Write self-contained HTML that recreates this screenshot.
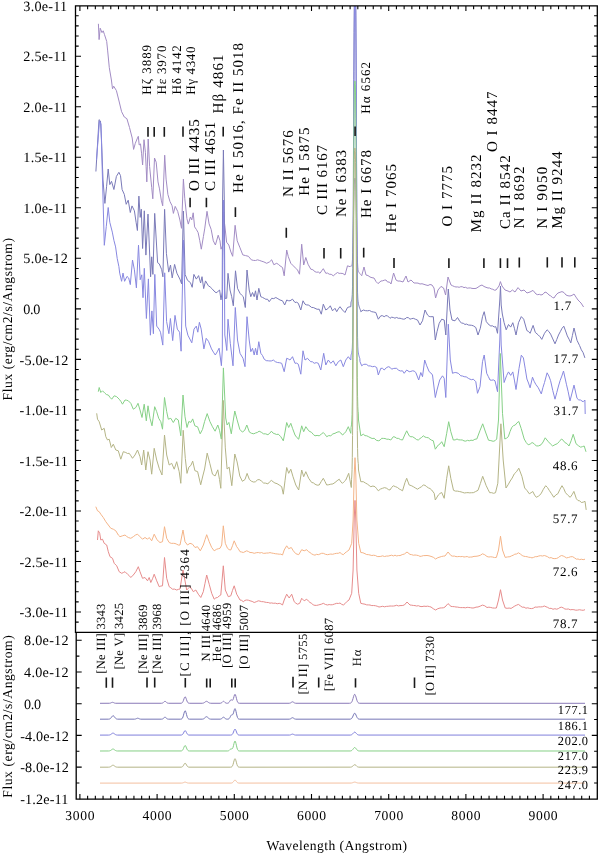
<!DOCTYPE html>
<html><head><meta charset="utf-8"><style>html,body{margin:0;padding:0;background:#fff;}svg{display:block;text-rendering:geometricPrecision;}</style></head>
<body><svg width="600" height="853" viewBox="0 0 600 853">
<rect width="600" height="853" fill="#fff"/>
<defs><clipPath id="cu"><rect x="75.5" y="5.9" width="521.8" height="626.5"/></clipPath></defs>
<g clip-path="url(#cu)" fill="none" stroke-width="1" stroke-linejoin="round">
<polyline points="98.40,23.80 99.10,39.60 100.20,28.20 102.00,32.60 103.20,30.80 104.40,34.30 106.70,41.40 107.60,50.10 109.30,67.70 111.40,80.00 112.50,88.80 113.70,86.20 116.40,90.60 119.00,101.00 121.60,111.70 124.30,117.00 126.90,118.70 129.50,127.50 132.20,138.00 133.60,149.40 135.30,143.30 137.10,138.90 138.30,136.30 139.20,145.00 140.50,143.90 141.60,153.80 142.60,165.00 144.00,139.70 145.40,152.30 146.10,166.40 146.80,181.90 148.20,139.00 149.60,166.40 151.70,187.50 152.80,198.80 154.50,158.00 156.20,162.20 158.00,181.90 159.50,188.90 161.30,200.20 162.70,205.80 164.70,155.20 166.10,179.10 167.90,194.50 170.00,201.60 172.10,205.80 173.40,213.40 175.20,206.40 177.70,211.40 179.90,220.00 181.50,228.30 183.40,179.10 184.80,198.80 186.90,218.50 188.30,224.10 190.40,217.00 191.80,219.90 193.20,212.80 194.60,226.90 196.35,229.42 198.10,232.50 199.70,240.29 201.30,249.20 203.40,236.60 204.80,228.10 207.00,211.30 209.10,223.90 211.20,229.50 213.30,240.80 215.40,245.00 218.20,235.20 220.00,240.80 221.00,249.20 222.90,245.00 223.60,212.00 224.30,222.00 224.80,225.30 226.60,242.20 228.80,245.00 230.90,252.00 232.70,256.30 235.10,225.30 237.20,240.80 240.00,247.80 242.80,254.90 245.60,255.60 248.40,256.30 251.30,259.80 253.40,260.39 255.50,260.50 257.60,259.82 259.70,260.50 261.80,261.26 263.90,261.90 266.70,263.30 269.50,261.90 271.70,259.80 273.80,264.70 276.70,263.30 278.35,264.34 280.00,265.80 282.50,267.50 284.20,275.80 286.70,250.00 288.30,256.70 290.80,263.30 293.30,265.80 295.80,268.30 297.50,270.00 299.50,274.20 301.70,244.20 303.70,265.00 305.80,257.50 308.00,264.20 310.80,269.20 312.90,269.74 315.00,271.70 316.67,272.25 318.33,272.03 320.00,273.30 321.65,270.89 323.30,268.70 325.80,273.30 327.50,273.06 329.20,274.20 331.25,274.35 333.30,275.80 335.40,274.03 337.50,272.50 339.15,273.42 340.80,273.30 342.90,273.55 345.00,275.00 347.50,265.80 350.00,266.70 350.25,266.16 350.50,266.21 350.75,266.23 351.00,266.23 351.25,266.20 351.50,266.10 351.75,265.82 352.00,265.04 352.25,263.14 352.50,259.26 352.75,252.48 353.00,242.44 353.25,229.67 353.50,215.67 353.75,202.39 354.00,191.55 354.25,184.05 354.50,179.87 354.75,178.25 355.00,178.00 355.25,178.25 355.50,179.88 355.75,184.12 356.00,191.78 356.25,202.91 356.50,216.63 356.75,231.22 357.00,244.64 357.25,255.35 357.50,262.74 357.75,267.17 358.00,269.54 358.25,270.75 358.50,271.44 358.75,271.94 359.00,272.37 359.25,272.76 359.50,273.14 359.75,273.49 360.00,273.82 360.25,274.14 360.50,274.44 360.75,274.72 361.00,274.98 361.25,275.24 361.50,275.48 361.70,275.80 364.00,267.00 366.00,275.00 368.00,275.56 370.00,277.00 372.00,277.70 374.00,278.00 376.00,281.52 378.00,283.60 381.00,281.00 382.67,280.79 384.33,280.17 386.00,280.00 387.67,282.10 389.33,281.94 391.00,284.00 393.60,273.00 396.00,280.00 398.00,281.07 400.00,281.00 403.00,282.00 406.00,276.00 408.00,282.00 411.00,280.00 414.00,283.00 416.00,283.00 418.00,283.10 420.00,284.00 422.00,283.72 424.00,284.36 426.00,285.00 428.00,285.51 430.00,284.49 432.00,285.00 434.00,288.00 435.60,298.00 438.00,290.00 441.00,286.40 443.60,288.00 445.60,295.00 448.00,277.00 451.00,285.00 452.67,285.80 454.33,286.56 456.00,287.00 457.60,286.92 459.20,287.32 460.80,286.66 462.40,286.78 464.00,287.60 465.60,287.29 467.20,288.21 468.80,287.96 470.40,287.94 472.00,288.40 474.00,288.54 476.00,288.40 478.00,287.19 480.00,285.81 482.00,285.00 484.00,286.47 486.00,287.32 488.00,288.00 489.60,287.99 491.20,288.92 492.80,289.24 494.40,290.20 496.00,290.00 499.00,286.00 500.40,281.60 502.00,286.00 505.00,290.00 508.00,291.00 510.00,292.00 512.40,290.00 515.00,292.00 518.00,287.60 521.00,291.00 524.00,290.00 527.00,293.00 530.00,292.00 533.00,290.40 536.00,294.00 537.67,294.70 539.33,294.33 541.00,295.00 543.00,294.27 545.00,292.00 547.00,292.89 549.00,295.00 550.67,295.87 552.33,297.41 554.00,298.00 556.00,294.94 558.00,293.00 560.00,292.28 562.00,291.60 564.00,292.56 566.00,295.00 568.00,295.77 570.00,296.00 572.00,295.42 574.00,294.00 576.00,297.12 578.00,300.00 581.00,303.00 583.60,307.00" stroke="#a28cc4"/>
<polyline points="95.90,171.50 99.00,119.70 100.50,121.00 101.50,140.00 103.00,180.00 104.90,203.40 106.55,186.80 108.20,169.00 109.80,184.60 111.50,181.30 113.90,189.50 116.40,176.40 118.90,172.30 120.50,175.60 122.10,189.50 124.30,194.40 126.20,204.30 128.20,200.20 130.30,212.50 132.00,205.90 134.40,210.80 136.10,222.30 137.40,230.50 138.90,196.10 140.20,217.40 141.30,209.20 142.60,248.50 144.30,210.80 145.90,255.10 148.00,214.10 150.60,276.80 151.70,256.80 152.90,274.40 154.70,213.40 157.60,262.70 159.30,263.90 161.70,269.70 162.90,276.80 164.60,209.30 166.40,253.30 168.70,272.10 170.50,265.00 172.20,277.90 174.60,264.40 176.90,273.20 179.90,279.10 181.60,283.80 183.40,211.00 185.10,274.40 187.50,280.30 190.40,282.60 192.20,287.30 193.90,274.40 196.30,279.10 198.60,275.60 200.60,283.00 202.00,276.70 203.70,288.60 205.50,280.90 208.40,285.80 210.15,286.90 211.90,288.60 214.00,291.01 216.10,292.80 217.85,291.55 219.60,290.00 221.00,299.90 222.20,292.00 222.60,200.00 223.40,150.00 224.30,200.00 224.80,290.00 225.20,298.50 226.70,298.30 228.00,273.30 230.00,290.00 231.70,296.70 233.30,305.80 235.50,270.80 237.50,288.30 240.00,293.30 241.65,295.13 243.30,296.70 245.30,307.50 247.00,270.00 249.20,290.00 250.80,296.70 252.50,292.50 254.20,296.70 255.50,290.80 257.00,300.00 258.80,288.30 260.80,296.70 262.50,297.43 264.20,298.30 265.85,299.29 267.50,299.20 269.20,301.70 271.70,298.30 273.75,298.61 275.80,297.50 277.90,298.71 280.00,300.00 282.50,300.80 284.70,305.00 286.70,300.00 288.35,300.66 290.00,300.80 292.50,299.20 295.00,302.50 296.65,302.20 298.30,303.30 300.80,310.00 303.00,300.80 305.00,304.20 306.65,304.92 308.30,305.00 309.97,306.07 311.63,307.46 313.30,307.50 315.00,308.30 317.10,309.27 319.20,309.20 321.30,314.20 323.30,304.20 325.80,310.00 328.30,308.30 330.30,305.80 332.50,310.80 335.00,308.30 336.70,311.70 338.35,308.86 340.00,306.70 342.50,310.00 345.00,312.50 347.50,307.50 349.15,306.92 350.80,306.70 351.05,302.06 351.30,301.40 351.55,300.64 351.80,299.70 352.05,298.13 352.30,294.59 352.55,286.17 352.80,268.39 353.05,237.06 353.30,191.34 353.55,135.89 353.80,79.74 354.05,32.29 354.30,-0.57 354.55,-18.23 354.80,-24.37 355.05,-24.99 355.30,-22.94 355.55,-12.81 355.80,10.75 356.05,49.97 356.30,102.13 356.55,159.58 356.80,212.46 357.05,253.09 357.30,279.02 357.55,292.81 357.80,299.09 358.05,301.86 358.30,303.34 358.55,304.44 358.80,305.41 359.05,306.30 359.30,307.12 359.55,307.87 359.80,308.54 360.05,309.14 360.30,309.67 360.55,310.14 360.80,311.70 363.30,310.00 365.40,310.67 367.50,310.80 369.60,310.49 371.70,311.70 373.75,312.04 375.80,312.50 378.30,319.20 380.80,315.80 382.50,315.72 384.20,316.70 385.85,315.64 387.50,315.80 390.00,318.30 391.65,317.19 393.30,317.50 394.97,318.20 396.63,317.44 398.30,318.30 399.97,318.20 401.63,318.73 403.30,319.20 405.00,318.94 406.70,317.50 408.35,317.68 410.00,319.20 411.65,318.67 413.30,318.30 415.40,319.23 417.50,320.00 420.00,325.00 422.50,320.80 425.00,310.00 427.50,315.00 429.15,316.46 430.80,316.70 433.30,316.70 435.30,340.00 437.00,331.70 439.20,323.30 441.70,319.20 444.20,320.00 445.80,335.00 447.60,300.00 448.30,289.00 449.20,300.00 450.00,310.00 452.00,320.00 455.00,320.80 457.50,317.50 460.00,321.70 461.65,323.01 463.30,323.30 464.97,324.45 466.63,324.08 468.30,325.00 469.97,325.13 471.63,325.31 473.30,325.80 475.80,327.50 478.00,335.00 480.30,328.30 482.50,316.70 484.20,311.70 486.30,321.70 489.20,325.00 490.85,326.01 492.50,325.80 494.15,326.98 495.80,326.70 497.50,333.30 499.80,300.00 500.50,286.00 501.20,305.00 502.30,314.00 504.10,322.70 506.20,329.80 508.50,324.50 510.70,327.10 512.80,322.70 514.40,328.29 516.00,335.00 518.50,322.70 521.30,316.60 523.70,319.20 526.90,330.60 528.50,331.43 530.10,333.30 533.10,325.40 535.30,332.40 538.30,335.00 540.05,336.77 541.80,339.40 544.50,333.30 547.10,329.80 548.85,331.52 550.60,334.10 552.80,338.93 555.00,343.80 556.75,339.54 558.50,335.00 560.27,331.69 562.03,328.34 563.80,326.20 565.55,330.92 567.30,335.90 569.05,339.19 570.80,342.90 572.40,335.56 574.00,328.00 577.00,340.30 579.60,345.60 581.35,349.82 583.10,352.60 584.90,357.90" stroke="#7a7ab8"/>
<polyline points="96.50,160.00 99.50,121.00 101.00,124.00 102.50,180.00 104.30,245.30 106.25,226.70 108.20,207.50 109.80,222.30 112.30,232.10 113.90,240.30 115.60,246.90 117.20,258.40 118.90,266.60 119.70,273.10 121.60,281.30 123.00,273.10 124.60,281.30 127.00,276.40 128.70,278.00 130.30,284.60 132.50,260.00 134.40,269.80 136.40,287.90 138.50,245.20 140.20,279.70 141.80,274.80 143.00,297.70 144.30,268.30 146.40,318.50 148.40,278.90 150.40,335.20 151.90,310.90 153.40,333.70 154.80,274.40 156.70,326.10 159.00,329.10 160.50,332.20 162.80,345.10 164.70,272.80 166.60,321.50 168.90,333.70 170.40,318.50 172.70,340.60 175.00,315.40 177.30,329.10 179.60,332.20 181.10,351.20 183.40,240.00 185.70,326.10 187.90,335.20 189.85,339.02 191.80,342.80 194.00,329.10 196.30,326.10 197.80,332.20 199.40,322.30 201.20,329.10 203.90,348.90 206.20,338.30 208.50,341.30 211.50,348.90 213.40,352.14 215.30,355.00 217.20,351.88 219.10,348.20 221.40,365.70 222.30,350.00 222.70,260.00 223.50,200.00 224.30,260.00 224.80,335.00 225.50,340.00 226.80,350.50 228.00,319.20 230.30,343.30 233.00,365.80 235.30,307.50 237.50,340.00 240.00,353.30 243.00,358.30 245.00,366.70 247.00,316.70 249.20,340.00 250.80,351.70 252.50,348.30 254.20,355.00 255.50,348.30 257.00,355.00 258.80,341.70 260.80,353.30 262.50,355.54 264.20,359.20 266.25,360.64 268.30,360.80 269.97,360.98 271.63,360.87 273.30,360.00 275.40,361.73 277.50,362.50 279.60,362.73 281.70,363.30 284.20,371.70 286.70,358.30 288.35,358.99 290.00,360.00 292.50,356.70 295.00,363.30 296.65,363.12 298.30,364.20 300.80,374.20 303.00,350.80 305.00,360.00 307.50,358.30 309.15,360.21 310.80,361.70 312.50,361.80 314.20,363.30 316.25,362.61 318.30,363.30 320.80,370.00 323.70,353.30 325.80,365.00 328.30,360.00 330.80,363.30 333.30,360.80 335.80,365.80 338.30,361.70 340.80,360.00 343.30,366.70 345.80,360.00 348.30,356.70 350.80,360.00 351.05,355.04 351.30,354.23 351.55,353.34 351.80,352.30 352.05,350.83 352.30,347.94 352.55,341.13 352.80,325.99 353.05,297.31 353.30,252.25 353.55,193.50 353.80,129.61 354.05,71.56 354.30,27.87 354.55,1.60 354.80,-9.70 355.05,-11.99 355.30,-11.30 355.55,-4.43 355.80,15.32 356.05,52.11 356.30,105.25 356.55,168.21 356.80,230.44 357.05,281.82 357.30,317.11 357.55,337.22 357.80,346.86 358.05,351.01 358.30,352.95 358.55,354.20 358.80,355.23 359.05,356.16 359.30,357.02 359.55,357.79 359.80,358.47 360.00,361.70 361.70,365.80 363.35,364.53 365.00,364.20 366.65,364.46 368.30,365.80 370.40,365.99 372.50,366.70 374.60,366.38 376.70,367.50 378.30,375.00 380.80,368.30 382.50,368.35 384.20,370.00 386.25,367.79 388.30,366.70 390.00,367.31 391.70,369.20 393.35,368.53 395.00,368.30 396.65,368.39 398.30,370.00 400.40,371.00 402.50,370.80 404.20,373.30 406.70,370.00 409.20,371.70 410.85,371.43 412.50,370.80 414.15,371.09 415.80,372.50 418.70,380.00 420.80,372.50 422.50,376.70 424.70,360.00 426.70,365.80 429.20,371.70 430.85,372.95 432.50,375.00 435.30,397.50 437.00,390.00 439.70,380.00 442.50,375.80 444.20,378.30 445.80,397.50 448.30,324.20 450.30,360.00 452.50,373.30 454.15,372.66 455.80,372.50 458.30,373.30 460.80,375.80 462.50,376.03 464.20,376.70 466.25,376.90 468.30,378.30 469.97,379.16 471.63,379.69 473.30,379.20 475.80,381.70 477.50,393.30 480.00,386.70 482.50,361.70 484.20,355.00 486.70,373.30 488.35,376.60 490.00,380.00 491.67,380.24 493.33,379.87 495.00,380.80 497.50,391.70 499.80,340.00 500.50,318.00 501.20,345.00 504.10,382.50 506.70,375.40 508.50,371.90 510.70,375.40 512.80,371.90 514.40,380.06 516.00,389.50 519.00,368.40 521.30,355.20 523.40,357.90 525.15,368.20 526.90,379.00 528.50,383.02 530.10,387.80 532.50,377.20 534.10,381.23 535.70,384.20 538.30,387.80 541.30,393.90 542.90,387.66 544.50,382.50 547.10,372.80 548.85,375.99 550.60,380.70 552.80,390.67 555.00,399.20 556.75,392.65 558.50,386.00 560.17,380.43 561.83,376.07 563.50,371.00 566.40,384.20 568.20,391.79 570.00,400.90 572.00,393.04 574.00,385.10 577.00,398.30 578.75,399.92 580.50,400.00 583.10,401.80 584.90,400.00 585.20,414.00" stroke="#8888e0"/>
<polyline points="98.30,391.70 99.20,387.50 100.80,392.50 102.50,390.80 105.00,393.30 106.65,394.66 108.30,395.00 110.00,397.37 111.70,399.20 114.20,395.80 116.70,396.70 119.20,399.20 120.85,401.37 122.50,404.20 125.00,400.00 126.65,400.21 128.30,400.80 130.80,403.30 133.30,409.20 135.80,407.50 138.00,403.30 140.00,410.00 142.00,417.50 144.20,404.20 146.30,420.80 148.00,405.80 150.00,418.30 152.00,425.80 154.70,406.70 156.70,411.70 158.70,418.30 160.80,421.70 162.50,429.20 164.50,397.50 166.70,411.70 168.30,419.20 170.80,418.30 173.30,422.50 175.80,418.30 178.30,420.00 180.80,435.80 183.00,395.00 185.00,416.70 187.00,427.50 188.80,421.50 190.90,422.40 192.70,418.90 194.90,425.90 197.60,426.80 200.20,433.80 202.50,429.40 204.60,421.50 207.20,413.60 209.90,421.50 212.50,426.80 215.10,431.20 217.80,425.00 219.50,430.30 221.30,439.10 223.40,367.90 225.70,418.00 227.10,425.00 228.90,422.40 231.30,433.80 233.05,421.93 234.80,411.00 237.10,419.80 239.80,429.40 242.40,432.10 244.70,430.30 246.80,425.00 249.40,432.10 251.60,433.33 253.80,433.80 255.57,432.98 257.33,432.46 259.10,431.20 261.30,432.26 263.50,433.80 265.70,433.86 267.90,434.70 269.65,433.39 271.40,431.20 273.15,433.18 274.90,433.80 276.60,434.49 278.30,434.20 280.80,436.70 283.30,440.80 285.00,432.08 286.70,422.50 288.70,427.50 290.80,423.30 292.50,428.30 295.00,435.00 296.85,437.55 298.70,439.20 301.70,425.80 303.70,431.70 305.80,426.70 308.70,430.80 311.70,432.50 313.35,434.49 315.00,435.80 317.10,435.42 319.20,435.80 321.25,434.17 323.30,432.50 325.00,434.40 326.70,436.70 328.75,435.59 330.80,435.80 332.90,433.89 335.00,433.30 337.10,432.19 339.20,431.70 340.85,433.01 342.50,435.00 344.15,433.62 345.80,431.70 348.30,426.70 350.80,433.30 351.05,427.46 351.30,426.05 351.55,424.15 351.80,420.93 352.05,414.53 352.30,401.93 352.55,379.56 352.80,345.03 353.05,298.99 353.30,245.94 353.55,192.99 353.80,147.27 354.05,113.53 354.30,92.94 354.55,83.47 354.80,81.07 355.05,81.21 355.30,84.64 355.55,95.97 355.80,118.87 356.05,154.71 356.30,201.51 356.55,253.91 356.80,304.66 357.05,347.14 357.30,377.75 357.55,396.64 357.80,406.61 358.05,411.18 358.30,413.10 358.50,420.00 360.80,435.80 363.30,434.20 365.00,435.64 366.70,435.80 368.35,436.58 370.00,437.50 372.10,438.51 374.20,438.30 376.25,440.23 378.30,440.80 380.00,440.19 381.70,438.30 383.37,438.41 385.03,438.51 386.70,439.20 388.75,439.22 390.80,440.00 393.30,436.70 395.00,437.08 396.70,438.30 398.63,438.45 400.57,439.61 402.50,440.00 404.70,435.00 406.70,430.80 409.20,435.80 410.85,436.81 412.50,436.70 415.00,438.30 416.65,439.63 418.30,440.00 419.97,438.57 421.63,437.41 423.30,435.80 425.00,437.07 426.70,437.50 428.35,437.77 430.00,439.20 431.65,440.22 433.30,440.80 435.30,449.20 438.30,445.00 440.00,443.92 441.70,441.70 444.20,446.70 446.70,433.30 448.70,421.70 450.80,431.70 453.30,440.00 455.15,439.90 457.00,439.00 458.75,439.83 460.50,439.92 462.25,439.97 464.00,440.90 465.75,441.13 467.50,440.32 469.25,440.80 471.00,440.20 472.93,440.46 474.87,439.25 476.80,439.00 479.90,430.80 482.70,423.80 485.50,432.00 488.50,440.20 490.85,440.61 493.20,441.30 494.95,440.78 496.70,439.00 498.50,420.00 500.30,353.50 502.50,413.30 504.80,439.00 506.55,438.16 508.30,436.70 510.05,431.54 511.80,427.30 513.55,425.63 515.30,425.00 517.05,422.76 518.80,421.50 521.20,428.50 524.20,439.00 526.20,442.47 528.20,444.80 530.15,444.08 532.10,442.50 534.20,443.75 536.30,446.00 538.65,445.86 541.00,444.80 543.10,441.97 545.20,437.80 548.00,441.30 550.35,443.87 552.70,446.00 555.00,444.64 557.30,443.70 559.40,441.42 561.50,439.00 563.15,440.23 564.80,442.50 566.90,443.57 569.00,446.00 571.10,440.81 573.20,434.30 576.00,443.70 578.35,445.66 580.70,447.20 582.45,446.64 584.20,446.00 586.00,451.80" stroke="#86d086"/>
<polyline points="96.70,413.30 97.50,419.20 99.20,421.70 101.70,430.00 104.20,428.30 105.80,436.70 107.50,440.00 109.20,439.20 111.30,447.50 113.30,444.20 115.80,450.00 118.30,450.80 120.80,459.20 123.30,451.70 125.80,452.50 127.50,453.51 129.20,453.30 130.85,455.71 132.50,458.30 135.00,455.00 137.50,450.00 140.00,456.70 141.70,465.00 143.70,450.00 145.80,470.00 148.00,451.70 150.00,460.00 151.70,474.20 154.20,448.30 156.70,460.00 159.20,468.30 162.00,475.00 164.50,435.00 166.70,455.00 169.20,465.00 171.70,463.30 174.20,469.20 176.70,461.70 179.20,471.70 180.80,483.30 183.20,430.30 185.30,458.40 187.00,473.40 188.80,467.20 190.90,465.40 192.70,461.10 194.90,470.70 197.60,471.60 200.70,484.80 202.80,476.00 204.60,469.00 207.20,453.10 209.90,463.70 212.50,474.20 215.10,476.00 217.80,469.80 219.50,479.50 220.80,488.30 223.20,400.40 225.30,447.90 227.10,469.00 229.20,467.20 231.80,485.70 234.80,454.00 237.10,461.90 239.80,476.00 242.40,481.30 245.00,479.50 247.10,473.40 249.40,479.50 251.60,481.32 253.80,482.10 255.57,481.69 257.33,479.96 259.10,479.50 261.30,480.90 263.50,483.00 265.70,483.16 267.90,483.90 269.65,481.79 271.40,480.40 273.15,481.82 274.90,483.00 277.05,483.66 279.20,485.00 281.70,486.70 283.30,494.20 285.00,480.74 286.70,467.50 288.70,473.30 290.80,469.20 293.00,476.70 295.80,485.00 298.70,490.00 301.70,470.00 303.70,476.70 305.80,471.70 308.70,478.30 311.70,482.50 313.35,482.83 315.00,484.20 317.10,485.17 319.20,485.00 321.25,481.45 323.30,478.30 325.00,481.59 326.70,485.00 328.75,484.72 330.80,484.20 332.90,483.92 335.00,482.50 337.10,480.74 339.20,479.20 340.85,481.83 342.50,483.30 344.15,481.65 345.80,480.00 348.70,473.30 351.30,487.50 351.55,479.31 351.80,476.02 352.05,469.66 352.30,457.33 352.55,435.60 352.80,402.19 353.05,357.75 353.30,306.62 353.55,255.63 353.80,211.66 354.05,179.23 354.30,159.46 354.55,150.37 354.80,148.06 355.05,148.20 355.30,151.48 355.55,162.32 355.80,184.21 356.05,218.43 356.30,263.07 356.55,313.02 356.80,361.32 357.05,401.69 357.30,430.69 357.55,448.50 357.80,457.81 358.05,461.97 358.30,463.60 358.50,470.00 360.80,481.70 363.30,481.70 365.40,482.99 367.50,484.20 369.15,485.48 370.80,486.70 372.90,486.03 375.00,486.70 376.65,488.67 378.30,490.80 380.40,489.11 382.50,488.30 384.60,487.61 386.70,488.30 388.35,489.57 390.00,490.00 391.65,487.44 393.30,485.80 395.40,486.61 397.50,487.50 399.17,488.92 400.83,489.78 402.50,490.80 405.00,482.50 406.70,478.30 409.20,485.00 411.25,485.61 413.30,486.70 415.40,487.98 417.50,489.20 419.43,487.88 421.37,486.80 423.30,485.00 425.00,485.30 426.70,486.70 428.37,487.88 430.03,488.55 431.70,490.00 434.20,493.30 435.30,500.00 438.30,495.00 440.00,493.44 441.70,492.50 444.20,498.30 446.70,478.30 448.70,465.80 450.80,478.30 453.50,490.30 455.43,491.08 457.37,491.11 459.30,491.50 461.05,491.89 462.80,492.46 464.55,492.98 466.30,492.70 468.05,492.62 469.80,492.86 471.55,492.71 473.30,492.70 475.65,491.52 478.00,490.30 480.35,483.57 482.70,476.30 484.45,480.93 486.20,485.70 487.95,489.25 489.70,492.70 491.63,492.67 493.57,493.32 495.50,492.70 497.80,483.30 500.90,423.80 503.20,460.00 506.00,488.00 508.10,484.78 510.20,481.00 512.20,478.03 514.20,474.00 516.50,471.72 518.80,468.20 521.90,476.30 524.70,488.00 527.00,490.56 529.30,493.80 531.05,492.73 532.80,491.50 534.55,495.02 536.30,497.30 538.65,496.03 541.00,493.80 543.35,489.24 545.70,485.70 547.45,487.47 549.20,490.30 551.50,493.72 553.80,497.30 555.80,494.95 557.80,493.80 559.90,489.39 562.00,485.70 563.75,488.60 565.50,492.70 567.85,495.24 570.20,497.30 572.05,494.75 573.90,491.40 576.40,498.80 578.03,500.59 579.67,500.78 581.30,502.50 583.15,502.20 585.00,501.30 586.20,509.90" stroke="#b4b486"/>
<polyline points="95.80,506.70 97.50,510.80 99.20,511.70 100.80,514.20 103.30,517.50 105.80,521.70 108.30,525.00 110.80,528.30 113.30,529.20 115.80,530.80 118.30,535.00 120.00,536.70 122.50,535.80 125.00,535.00 126.65,536.41 128.30,537.50 130.80,538.30 133.30,536.70 135.40,535.09 137.50,534.20 140.00,536.70 142.50,539.20 145.00,537.50 147.50,539.20 149.20,537.50 151.70,540.80 154.20,534.20 156.70,539.20 158.35,541.23 160.00,542.50 162.50,541.70 164.50,526.70 166.70,538.30 169.20,542.50 171.25,543.37 173.30,543.30 175.00,543.47 176.70,544.20 178.35,545.05 180.00,545.00 183.00,530.00 185.00,541.70 187.50,545.00 190.00,543.30 192.50,544.20 195.00,547.50 197.50,546.70 200.30,550.80 203.30,545.00 205.00,539.75 206.70,534.70 209.20,541.70 211.70,547.50 214.20,550.80 216.70,549.20 218.35,548.74 220.00,548.30 221.70,545.00 223.30,525.80 225.30,543.30 227.50,548.30 229.15,549.64 230.80,550.00 232.50,545.73 234.20,540.80 236.70,546.70 238.35,548.86 240.00,551.70 241.65,552.03 243.30,552.50 245.00,551.67 246.70,550.80 248.35,551.49 250.00,552.50 252.10,552.60 254.20,553.30 256.25,552.72 258.30,552.50 259.97,552.99 261.63,552.55 263.30,553.30 264.97,553.25 266.63,553.04 268.30,553.00 269.97,552.62 271.63,553.03 273.30,553.30 275.27,553.72 277.23,553.91 279.20,554.20 280.85,554.16 282.50,555.00 284.20,550.00 286.70,545.80 288.70,548.70 291.30,547.50 293.30,550.80 295.80,553.70 298.70,554.70 301.70,549.70 304.20,550.80 306.70,549.70 308.35,551.59 310.00,552.50 311.65,553.89 313.30,554.70 314.97,555.17 316.63,554.30 318.30,554.70 319.97,554.00 321.63,553.31 323.30,553.30 325.40,554.28 327.50,554.70 329.17,554.34 330.83,554.06 332.50,554.30 334.60,553.72 336.70,553.30 338.35,553.31 340.00,552.50 341.65,553.92 343.30,554.70 345.00,552.96 346.70,551.70 349.00,550.00 351.70,543.30 353.10,520.00 354.20,475.00 355.00,457.70 355.80,475.00 356.90,520.00 358.70,543.30 360.80,552.50 362.90,552.75 365.00,553.70 366.67,554.55 368.33,554.64 370.00,555.00 371.80,555.52 373.60,555.23 375.40,555.52 377.20,556.47 379.00,556.60 380.83,556.36 382.67,555.84 384.50,556.54 386.33,556.07 388.17,556.07 390.00,555.60 391.67,555.18 393.33,555.96 395.00,555.17 396.67,555.96 398.33,555.55 400.00,555.60 402.20,554.64 404.40,554.00 407.00,552.00 410.00,554.40 411.67,554.65 413.33,555.23 415.00,555.00 416.67,555.23 418.33,555.56 420.00,556.40 421.67,556.16 423.33,555.61 425.00,555.60 427.00,555.48 429.00,555.79 431.00,556.40 433.30,557.25 435.60,559.00 437.80,557.70 440.00,557.00 441.67,556.48 443.33,556.14 445.00,556.00 448.00,552.00 451.00,555.60 452.67,556.19 454.33,556.06 456.00,556.60 457.60,556.68 459.20,556.44 460.80,556.69 462.40,556.44 464.00,557.00 465.60,556.75 467.20,556.52 468.80,557.23 470.40,557.05 472.00,557.00 474.00,556.36 476.00,556.31 478.00,556.00 480.25,555.33 482.50,553.80 484.75,554.76 487.00,556.50 488.88,557.00 490.76,556.79 492.64,557.04 494.52,557.55 496.40,557.40 498.50,550.00 500.50,536.20 502.50,550.00 505.20,557.40 507.55,556.94 509.90,556.70 511.53,555.87 513.17,555.22 514.80,554.20 516.60,553.98 518.40,552.80 520.30,553.99 522.20,555.50 523.83,556.23 525.47,556.51 527.10,556.70 528.73,557.24 530.37,557.40 532.00,557.90 533.63,557.35 535.27,556.65 536.90,556.70 538.75,556.03 540.60,555.67 542.45,556.04 544.30,555.50 545.97,556.06 547.63,556.76 549.30,557.90 551.15,557.61 553.00,558.49 554.85,558.65 556.70,558.40 558.33,557.60 559.97,556.25 561.60,555.50 563.23,556.04 564.87,556.89 566.50,557.90 568.57,557.46 570.63,556.76 572.70,556.70 574.55,557.90 576.40,559.20 578.03,558.96 579.67,559.66 581.30,559.20 583.15,559.67 585.00,559.20" stroke="#f4b488"/>
<polyline points="97.50,540.00 98.30,530.80 99.70,533.30 100.80,540.00 102.50,539.20 104.20,543.30 106.70,545.00 108.30,551.70 110.00,556.70 112.50,558.30 114.20,563.30 116.70,565.80 119.20,571.70 121.70,573.30 123.35,572.55 125.00,571.70 127.50,574.20 129.15,575.59 130.80,577.50 133.30,575.00 135.80,571.70 138.30,566.70 140.00,571.70 142.50,578.30 145.00,577.50 147.50,580.80 149.20,577.50 150.80,582.50 152.50,578.82 154.20,574.20 156.70,580.80 159.20,586.70 160.85,586.06 162.50,585.80 164.50,557.50 166.70,578.30 169.20,586.70 170.85,587.81 172.50,589.20 174.60,589.10 176.70,590.00 178.35,589.38 180.00,589.00 183.00,570.00 184.85,579.97 186.70,590.00 188.35,588.35 190.00,586.70 191.65,588.90 193.30,591.70 195.80,590.00 198.30,594.20 200.80,597.50 203.30,591.70 205.00,583.35 206.70,575.00 209.20,584.20 211.70,593.30 214.20,599.20 215.85,597.85 217.50,597.50 219.15,596.01 220.80,595.00 223.30,565.80 225.30,590.00 228.30,596.70 230.80,595.80 232.50,590.39 234.20,585.80 236.70,594.20 238.35,597.00 240.00,600.00 241.65,600.39 243.30,601.70 245.00,600.37 246.70,600.00 248.35,600.20 250.00,600.80 252.10,601.38 254.20,602.50 256.25,601.74 258.30,600.80 259.97,601.13 261.63,601.65 263.30,601.70 264.97,602.12 266.63,602.45 268.30,602.50 269.97,603.15 271.63,602.92 273.30,603.30 275.27,603.13 277.23,603.78 279.20,603.30 280.85,603.80 282.50,605.00 284.20,600.00 286.70,594.20 289.20,598.00 291.70,594.20 294.20,601.70 295.85,603.17 297.50,604.20 299.70,603.30 301.70,598.30 304.20,600.80 306.70,599.20 308.35,600.99 310.00,602.50 311.65,603.29 313.30,605.00 314.97,605.34 316.63,605.39 318.30,605.00 319.97,604.56 321.63,604.10 323.30,603.30 325.40,604.46 327.50,605.00 329.17,604.54 330.83,604.82 332.50,604.70 334.60,604.00 336.70,603.30 338.35,603.48 340.00,603.00 341.65,604.30 343.30,605.00 345.00,603.68 346.70,601.70 349.00,600.00 351.70,593.30 353.10,570.00 354.20,520.00 355.00,500.40 355.80,520.00 356.90,570.00 358.70,593.30 360.80,603.30 362.90,603.83 365.00,604.20 366.67,604.86 368.33,604.92 370.00,605.00 371.80,605.59 373.60,605.53 375.40,605.73 377.20,606.23 379.00,607.00 380.83,606.69 382.67,606.27 384.50,606.84 386.33,606.39 388.17,606.29 390.00,606.00 391.67,606.06 393.33,606.05 395.00,605.79 396.67,605.24 398.33,605.96 400.00,605.60 402.20,605.55 404.40,605.00 407.00,602.00 410.00,605.00 411.67,605.20 413.33,605.44 415.00,605.60 416.67,606.03 418.33,605.70 420.00,606.40 422.00,606.64 424.00,606.15 426.00,606.40 427.67,606.17 429.33,606.57 431.00,607.00 433.30,608.73 435.60,610.00 437.80,608.71 440.00,608.00 441.67,607.91 443.33,607.81 445.00,607.00 448.00,603.60 451.00,606.40 452.67,606.59 454.33,606.68 456.00,607.00 457.60,607.10 459.20,607.42 460.80,607.63 462.40,607.60 464.00,607.60 465.60,607.82 467.20,607.34 468.80,607.49 470.40,607.67 472.00,608.00 474.00,607.91 476.00,607.14 478.00,607.00 480.25,606.12 482.50,605.10 484.75,605.81 487.00,607.50 488.88,607.16 490.76,607.47 492.64,607.97 494.52,608.09 496.40,608.00 498.50,600.00 500.50,589.70 502.50,600.00 505.20,608.00 507.17,608.31 509.13,608.06 511.10,608.40 512.95,607.22 514.80,606.00 516.60,605.16 518.40,604.40 520.30,605.77 522.20,607.20 524.05,607.12 525.90,608.19 527.75,607.80 529.60,608.40 531.42,608.58 533.25,608.24 535.08,607.02 536.90,607.20 538.75,606.86 540.60,606.92 542.45,606.77 544.30,606.00 545.97,606.75 547.63,607.37 549.30,608.40 551.15,608.31 553.00,609.25 554.85,608.71 556.70,609.20 558.33,608.61 559.97,607.51 561.60,607.20 563.23,607.89 564.87,608.99 566.50,609.20 568.35,608.96 570.20,609.77 572.05,609.58 573.90,609.70 575.75,610.19 577.60,610.10 579.45,609.73 581.30,610.10 583.15,610.30 585.00,609.70" stroke="#e68c8c"/>
</g>
<g fill="none" stroke-width="1">
<polyline points="100.00,703.30 109.50,703.26 110.00,703.19 110.50,703.05 111.00,702.84 111.50,702.59 112.00,702.38 112.50,702.30 113.00,702.38 113.50,702.59 114.00,702.84 114.50,703.05 115.00,703.19 115.50,703.26 161.50,703.27 162.00,703.21 162.50,703.07 163.00,702.80 163.50,702.38 164.00,701.89 164.50,701.47 165.00,701.30 165.50,701.47 166.00,701.89 166.50,702.38 167.00,702.80 167.50,703.07 168.00,703.21 168.50,703.27 181.00,703.26 181.50,703.16 182.00,702.92 182.50,702.42 183.00,701.54 183.50,700.25 184.00,698.76 184.50,697.46 185.00,696.82 185.50,697.10 186.00,698.19 186.50,699.66 187.00,701.07 187.50,702.12 188.00,702.76 188.50,703.09 189.00,703.23 189.50,703.28 202.00,703.28 202.50,703.24 203.00,703.17 203.50,703.03 204.00,702.80 204.50,702.48 205.00,702.09 205.50,701.70 206.00,701.41 206.50,701.30 207.00,701.41 207.50,701.70 208.00,702.09 208.50,702.48 209.00,702.80 209.50,703.03 210.00,703.17 210.50,703.24 211.00,703.28 220.00,703.27 220.50,703.21 221.00,703.07 221.50,702.80 222.00,702.38 222.50,701.89 223.00,701.47 223.50,701.30 224.00,701.47 224.50,701.89 225.00,702.38 225.50,702.80 226.00,703.07 226.50,703.21 227.00,703.26 227.50,703.24 228.00,703.14 228.50,702.90 229.00,702.43 229.50,701.70 230.00,700.82 230.50,700.07 231.00,699.72 231.50,699.85 232.00,700.20 232.50,700.28 233.00,699.67 233.50,698.28 234.00,696.45 234.50,694.89 235.00,694.29 235.50,694.94 236.00,696.60 236.50,698.67 237.00,700.54 237.50,701.88 238.00,702.67 238.50,703.06 239.00,703.22 239.50,703.28 289.00,703.28 289.50,703.23 290.00,703.13 290.50,702.93 291.00,702.61 291.50,702.24 292.00,701.92 292.50,701.80 293.00,701.92 293.50,702.24 294.00,702.61 294.50,702.93 295.00,703.13 295.50,703.23 296.00,703.28 349.50,703.28 350.00,703.23 350.50,703.12 351.00,702.87 351.50,702.38 352.00,701.52 352.50,700.23 353.00,698.56 353.50,696.76 354.00,695.23 354.50,694.38 355.00,694.48 355.50,695.49 356.00,697.12 356.50,698.92 357.00,700.52 357.50,701.72 358.00,702.50 358.50,702.94 359.00,703.15 359.50,703.25 360.00,703.28 585.00,703.30" stroke="#8a7ab8"/>
<polyline points="100.00,719.20 108.50,719.17 109.00,719.12 109.50,719.00 110.00,718.79 110.50,718.42 111.00,717.89 111.50,717.22 112.00,716.53 112.50,715.97 113.00,715.71 113.50,715.82 114.00,716.28 114.50,716.94 115.00,717.63 115.50,718.23 116.00,718.66 116.50,718.93 117.00,719.08 117.50,719.15 134.50,719.17 135.00,719.12 135.50,719.01 136.00,718.83 136.50,718.59 137.00,718.36 137.50,718.21 138.00,718.23 138.50,718.40 139.00,718.64 139.50,718.88 140.00,719.04 140.50,719.13 141.00,719.18 161.50,719.17 162.00,719.11 162.50,718.97 163.00,718.70 163.50,718.28 164.00,717.79 164.50,717.37 165.00,717.20 165.50,717.37 166.00,717.79 166.50,718.28 167.00,718.70 167.50,718.97 168.00,719.11 168.50,719.17 180.50,719.18 181.00,719.14 181.50,719.02 182.00,718.70 182.50,718.05 183.00,716.89 183.50,715.21 184.00,713.26 184.50,711.56 185.00,710.73 185.50,711.09 186.00,712.51 186.50,714.44 187.00,716.28 187.50,717.65 188.00,718.49 188.50,718.92 189.00,719.11 189.50,719.17 202.00,719.17 202.50,719.13 203.00,719.04 203.50,718.86 204.00,718.58 204.50,718.17 205.00,717.68 205.50,717.20 206.00,716.84 206.50,716.70 207.00,716.84 207.50,717.20 208.00,717.68 208.50,718.17 209.00,718.58 209.50,718.86 210.00,719.04 210.50,719.13 211.00,719.17 220.00,719.17 220.50,719.11 221.00,718.97 221.50,718.70 222.00,718.28 222.50,717.79 223.00,717.37 223.50,717.20 224.00,717.37 224.50,717.79 225.00,718.28 225.50,718.70 226.00,718.97 226.50,719.11 227.00,719.17 227.50,719.18 228.00,719.14 228.50,719.02 229.00,718.74 229.50,718.20 230.00,717.36 230.50,716.35 231.00,715.44 231.50,714.92 232.00,714.80 232.50,714.72 233.00,714.15 233.50,712.81 234.00,710.93 234.50,709.27 235.00,708.64 235.50,709.43 236.00,711.39 236.50,713.80 237.00,715.98 237.50,717.55 238.00,718.47 238.50,718.92 239.00,719.11 239.50,719.17 289.00,719.18 289.50,719.13 290.00,719.03 290.50,718.83 291.00,718.51 291.50,718.14 292.00,717.82 292.50,717.70 293.00,717.82 293.50,718.14 294.00,718.51 294.50,718.83 295.00,719.03 295.50,719.13 296.00,719.18 350.00,719.16 350.50,719.08 351.00,718.91 351.50,718.58 352.00,718.01 352.50,717.15 353.00,716.04 353.50,714.84 354.00,713.82 354.50,713.25 355.00,713.32 355.50,714.00 356.00,715.08 356.50,716.28 357.00,717.35 357.50,718.15 358.00,718.67 358.50,718.96 359.00,719.10 359.50,719.16 585.00,719.20" stroke="#7676b6"/>
<polyline points="100.00,735.10 108.50,735.08 109.00,735.04 109.50,734.97 110.00,734.83 110.50,734.60 111.00,734.28 111.50,733.89 112.00,733.50 112.50,733.21 113.00,733.10 113.50,733.21 114.00,733.50 114.50,733.89 115.00,734.28 115.50,734.60 116.00,734.83 116.50,734.97 117.00,735.04 117.50,735.08 181.00,735.07 181.50,735.00 182.00,734.84 182.50,734.49 183.00,733.88 183.50,732.99 184.00,731.95 184.50,731.05 185.00,730.61 185.50,730.81 186.00,731.56 186.50,732.58 187.00,733.55 187.50,734.28 188.00,734.73 188.50,734.95 189.00,735.05 230.50,735.08 231.00,735.05 231.50,734.94 232.00,734.68 232.50,734.16 233.00,733.26 233.50,732.02 234.00,730.64 234.50,729.53 235.00,729.10 235.50,729.53 236.00,730.64 236.50,732.02 237.00,733.26 237.50,734.16 238.00,734.68 238.50,734.94 239.00,735.05 239.50,735.08 289.50,735.06 290.00,734.99 290.50,734.85 291.00,734.64 291.50,734.39 292.00,734.18 292.50,734.10 293.00,734.18 293.50,734.39 294.00,734.64 294.50,734.85 295.00,734.99 295.50,735.06 350.00,735.08 350.50,735.04 351.00,734.96 351.50,734.79 352.00,734.51 352.50,734.08 353.00,733.52 353.50,732.92 354.00,732.41 354.50,732.13 355.00,732.16 355.50,732.50 356.00,733.04 356.50,733.64 357.00,734.17 357.50,734.57 358.00,734.83 358.50,734.98 359.00,735.05 585.00,735.10" stroke="#8080dc"/>
<polyline points="100.00,751.00 108.50,750.98 109.00,750.94 109.50,750.87 110.00,750.73 110.50,750.50 111.00,750.18 111.50,749.79 112.00,749.40 112.50,749.11 113.00,749.00 113.50,749.11 114.00,749.40 114.50,749.79 115.00,750.18 115.50,750.50 116.00,750.73 116.50,750.87 117.00,750.94 117.50,750.98 181.00,750.96 181.50,750.88 182.00,750.68 182.50,750.26 183.00,749.51 183.50,748.42 184.00,747.16 184.50,746.06 185.00,745.52 185.50,745.75 186.00,746.67 186.50,747.92 187.00,749.11 187.50,750.00 188.00,750.54 188.50,750.82 189.00,750.94 189.50,750.98 227.50,750.97 228.00,750.91 228.50,750.77 229.00,750.50 229.50,750.08 230.00,749.58 230.50,749.14 231.00,748.91 231.50,748.90 232.00,748.89 232.50,748.51 233.00,747.44 233.50,745.63 234.00,743.47 234.50,741.68 235.00,740.99 235.50,741.71 236.00,743.56 236.50,745.86 237.00,747.94 237.50,749.43 238.00,750.30 238.50,750.73 239.00,750.91 239.50,750.97 350.00,750.97 350.50,750.93 351.00,750.83 351.50,750.64 352.00,750.31 352.50,749.81 353.00,749.16 353.50,748.46 354.00,747.86 354.50,747.53 355.00,747.57 355.50,747.96 356.00,748.60 356.50,749.30 357.00,749.92 357.50,750.39 358.00,750.69 358.50,750.86 359.00,750.94 359.50,750.98 585.00,751.00" stroke="#86d086"/>
<polyline points="100.00,767.20 108.50,767.18 109.00,767.14 109.50,767.07 110.00,766.93 110.50,766.70 111.00,766.38 111.50,765.99 112.00,765.60 112.50,765.31 113.00,765.20 113.50,765.31 114.00,765.60 114.50,765.99 115.00,766.38 115.50,766.70 116.00,766.93 116.50,767.07 117.00,767.14 117.50,767.18 181.00,767.17 181.50,767.11 182.00,766.97 182.50,766.66 183.00,766.12 183.50,765.32 184.00,764.40 184.50,763.60 185.00,763.21 185.50,763.38 186.00,764.05 186.50,764.96 187.00,765.83 187.50,766.47 188.00,766.87 188.50,767.07 189.00,767.16 230.50,767.18 231.00,767.13 231.50,766.97 232.00,766.61 232.50,765.86 233.00,764.60 233.50,762.83 234.00,760.88 234.50,759.31 235.00,758.70 235.50,759.31 236.00,760.88 236.50,762.83 237.00,764.60 237.50,765.86 238.00,766.61 238.50,766.97 239.00,767.13 239.50,767.18 350.50,767.15 351.00,767.08 351.50,766.94 352.00,766.71 352.50,766.35 353.00,765.88 353.50,765.38 354.00,764.96 354.50,764.72 355.00,764.75 355.50,765.03 356.00,765.48 356.50,765.98 357.00,766.43 357.50,766.76 358.00,766.98 358.50,767.10 359.00,767.16 585.00,767.20" stroke="#b4b486"/>
<polyline points="100.00,783.10 181.50,783.08 182.00,783.04 182.50,782.96 183.00,782.83 183.50,782.63 184.00,782.40 184.50,782.20 185.00,782.10 185.50,782.15 186.00,782.31 186.50,782.54 187.00,782.76 187.50,782.92 188.00,783.02 188.50,783.07 231.00,783.07 231.50,783.02 232.00,782.89 232.50,782.63 233.00,782.18 233.50,781.56 234.00,780.87 234.50,780.31 235.00,780.10 235.50,780.31 236.00,780.87 236.50,781.56 237.00,782.18 237.50,782.63 238.00,782.89 238.50,783.02 239.00,783.07 351.00,783.05 351.50,783.00 352.00,782.90 352.50,782.76 353.00,782.57 353.50,782.37 354.00,782.20 354.50,782.11 355.00,782.12 355.50,782.23 356.00,782.41 356.50,782.61 357.00,782.79 357.50,782.92 358.00,783.01 358.50,783.06 585.00,783.10" stroke="#f4c0a0"/>
</g>
<g stroke="#000" stroke-width="1.3" fill="none">
<path d="M75.5,632.4 L75.5,5.9 L597.3,5.9 L597.3,632.4"/>
<path d="M76.2,632.4 L76.2,799.2 L597.3,799.2 L597.3,631.8"/>
<path d="M74.9,632.4 L597.9,632.4"/>
</g>
<path d="M79.90,5.9 v5.2 M79.90,799.2 v-5.2 M87.62,5.9 v3.4 M87.62,799.2 v-3.4 M95.34,5.9 v3.4 M95.34,799.2 v-3.4 M103.06,5.9 v3.4 M103.06,799.2 v-3.4 M110.78,5.9 v3.4 M110.78,799.2 v-3.4 M118.50,5.9 v3.4 M118.50,799.2 v-3.4 M126.22,5.9 v3.4 M126.22,799.2 v-3.4 M133.94,5.9 v3.4 M133.94,799.2 v-3.4 M141.66,5.9 v3.4 M141.66,799.2 v-3.4 M149.38,5.9 v3.4 M149.38,799.2 v-3.4 M157.10,5.9 v5.2 M157.10,799.2 v-5.2 M164.82,5.9 v3.4 M164.82,799.2 v-3.4 M172.54,5.9 v3.4 M172.54,799.2 v-3.4 M180.26,5.9 v3.4 M180.26,799.2 v-3.4 M187.98,5.9 v3.4 M187.98,799.2 v-3.4 M195.70,5.9 v3.4 M195.70,799.2 v-3.4 M203.42,5.9 v3.4 M203.42,799.2 v-3.4 M211.14,5.9 v3.4 M211.14,799.2 v-3.4 M218.86,5.9 v3.4 M218.86,799.2 v-3.4 M226.58,5.9 v3.4 M226.58,799.2 v-3.4 M234.30,5.9 v5.2 M234.30,799.2 v-5.2 M242.02,5.9 v3.4 M242.02,799.2 v-3.4 M249.74,5.9 v3.4 M249.74,799.2 v-3.4 M257.46,5.9 v3.4 M257.46,799.2 v-3.4 M265.18,5.9 v3.4 M265.18,799.2 v-3.4 M272.90,5.9 v3.4 M272.90,799.2 v-3.4 M280.62,5.9 v3.4 M280.62,799.2 v-3.4 M288.34,5.9 v3.4 M288.34,799.2 v-3.4 M296.06,5.9 v3.4 M296.06,799.2 v-3.4 M303.78,5.9 v3.4 M303.78,799.2 v-3.4 M311.50,5.9 v5.2 M311.50,799.2 v-5.2 M319.22,5.9 v3.4 M319.22,799.2 v-3.4 M326.94,5.9 v3.4 M326.94,799.2 v-3.4 M334.66,5.9 v3.4 M334.66,799.2 v-3.4 M342.38,5.9 v3.4 M342.38,799.2 v-3.4 M350.10,5.9 v3.4 M350.10,799.2 v-3.4 M357.82,5.9 v3.4 M357.82,799.2 v-3.4 M365.54,5.9 v3.4 M365.54,799.2 v-3.4 M373.26,5.9 v3.4 M373.26,799.2 v-3.4 M380.98,5.9 v3.4 M380.98,799.2 v-3.4 M388.70,5.9 v5.2 M388.70,799.2 v-5.2 M396.42,5.9 v3.4 M396.42,799.2 v-3.4 M404.14,5.9 v3.4 M404.14,799.2 v-3.4 M411.86,5.9 v3.4 M411.86,799.2 v-3.4 M419.58,5.9 v3.4 M419.58,799.2 v-3.4 M427.30,5.9 v3.4 M427.30,799.2 v-3.4 M435.02,5.9 v3.4 M435.02,799.2 v-3.4 M442.74,5.9 v3.4 M442.74,799.2 v-3.4 M450.46,5.9 v3.4 M450.46,799.2 v-3.4 M458.18,5.9 v3.4 M458.18,799.2 v-3.4 M465.90,5.9 v5.2 M465.90,799.2 v-5.2 M473.62,5.9 v3.4 M473.62,799.2 v-3.4 M481.34,5.9 v3.4 M481.34,799.2 v-3.4 M489.06,5.9 v3.4 M489.06,799.2 v-3.4 M496.78,5.9 v3.4 M496.78,799.2 v-3.4 M504.50,5.9 v3.4 M504.50,799.2 v-3.4 M512.22,5.9 v3.4 M512.22,799.2 v-3.4 M519.94,5.9 v3.4 M519.94,799.2 v-3.4 M527.66,5.9 v3.4 M527.66,799.2 v-3.4 M535.38,5.9 v3.4 M535.38,799.2 v-3.4 M543.10,5.9 v5.2 M543.10,799.2 v-5.2 M550.82,5.9 v3.4 M550.82,799.2 v-3.4 M558.54,5.9 v3.4 M558.54,799.2 v-3.4 M566.26,5.9 v3.4 M566.26,799.2 v-3.4 M573.98,5.9 v3.4 M573.98,799.2 v-3.4 M581.70,5.9 v3.4 M581.70,799.2 v-3.4 M589.42,5.9 v3.4 M589.42,799.2 v-3.4 M75.5,622.11 h3.2 M597.3,622.11 h-3.2 M75.5,612.00 h5.5 M597.3,612.00 h-5.5 M75.5,601.90 h3.2 M597.3,601.90 h-3.2 M75.5,591.79 h3.2 M597.3,591.79 h-3.2 M75.5,581.69 h3.2 M597.3,581.69 h-3.2 M75.5,571.58 h3.2 M597.3,571.58 h-3.2 M75.5,561.48 h5.5 M597.3,561.48 h-5.5 M75.5,551.37 h3.2 M597.3,551.37 h-3.2 M75.5,541.27 h3.2 M597.3,541.27 h-3.2 M75.5,531.16 h3.2 M597.3,531.16 h-3.2 M75.5,521.06 h3.2 M597.3,521.06 h-3.2 M75.5,510.95 h5.5 M597.3,510.95 h-5.5 M75.5,500.85 h3.2 M597.3,500.85 h-3.2 M75.5,490.74 h3.2 M597.3,490.74 h-3.2 M75.5,480.63 h3.2 M597.3,480.63 h-3.2 M75.5,470.53 h3.2 M597.3,470.53 h-3.2 M75.5,460.43 h5.5 M597.3,460.43 h-5.5 M75.5,450.32 h3.2 M597.3,450.32 h-3.2 M75.5,440.22 h3.2 M597.3,440.22 h-3.2 M75.5,430.11 h3.2 M597.3,430.11 h-3.2 M75.5,420.00 h3.2 M597.3,420.00 h-3.2 M75.5,409.90 h5.5 M597.3,409.90 h-5.5 M75.5,399.80 h3.2 M597.3,399.80 h-3.2 M75.5,389.69 h3.2 M597.3,389.69 h-3.2 M75.5,379.58 h3.2 M597.3,379.58 h-3.2 M75.5,369.48 h3.2 M597.3,369.48 h-3.2 M75.5,359.38 h5.5 M597.3,359.38 h-5.5 M75.5,349.27 h3.2 M597.3,349.27 h-3.2 M75.5,339.17 h3.2 M597.3,339.17 h-3.2 M75.5,329.06 h3.2 M597.3,329.06 h-3.2 M75.5,318.95 h3.2 M597.3,318.95 h-3.2 M75.5,308.85 h5.5 M597.3,308.85 h-5.5 M75.5,298.75 h3.2 M597.3,298.75 h-3.2 M75.5,288.64 h3.2 M597.3,288.64 h-3.2 M75.5,278.54 h3.2 M597.3,278.54 h-3.2 M75.5,268.43 h3.2 M597.3,268.43 h-3.2 M75.5,258.32 h5.5 M597.3,258.32 h-5.5 M75.5,248.22 h3.2 M597.3,248.22 h-3.2 M75.5,238.12 h3.2 M597.3,238.12 h-3.2 M75.5,228.01 h3.2 M597.3,228.01 h-3.2 M75.5,217.91 h3.2 M597.3,217.91 h-3.2 M75.5,207.80 h5.5 M597.3,207.80 h-5.5 M75.5,197.69 h3.2 M597.3,197.69 h-3.2 M75.5,187.59 h3.2 M597.3,187.59 h-3.2 M75.5,177.48 h3.2 M597.3,177.48 h-3.2 M75.5,167.38 h3.2 M597.3,167.38 h-3.2 M75.5,157.28 h5.5 M597.3,157.28 h-5.5 M75.5,147.17 h3.2 M597.3,147.17 h-3.2 M75.5,137.06 h3.2 M597.3,137.06 h-3.2 M75.5,126.96 h3.2 M597.3,126.96 h-3.2 M75.5,116.86 h3.2 M597.3,116.86 h-3.2 M75.5,106.75 h5.5 M597.3,106.75 h-5.5 M75.5,96.65 h3.2 M597.3,96.65 h-3.2 M75.5,86.54 h3.2 M597.3,86.54 h-3.2 M75.5,76.44 h3.2 M597.3,76.44 h-3.2 M75.5,66.33 h3.2 M597.3,66.33 h-3.2 M75.5,56.23 h5.5 M597.3,56.23 h-5.5 M75.5,46.12 h3.2 M597.3,46.12 h-3.2 M75.5,36.02 h3.2 M597.3,36.02 h-3.2 M75.5,25.91 h3.2 M597.3,25.91 h-3.2 M75.5,15.80 h3.2 M597.3,15.80 h-3.2 M76.2,783.00 h3.2 M597.3,783.00 h-3.2 M76.2,767.14 h5.5 M597.3,767.14 h-5.5 M76.2,751.28 h3.2 M597.3,751.28 h-3.2 M76.2,735.42 h5.5 M597.3,735.42 h-5.5 M76.2,719.56 h3.2 M597.3,719.56 h-3.2 M76.2,703.70 h5.5 M597.3,703.70 h-5.5 M76.2,687.84 h3.2 M597.3,687.84 h-3.2 M76.2,671.98 h5.5 M597.3,671.98 h-5.5 M76.2,656.12 h3.2 M597.3,656.12 h-3.2 M76.2,640.26 h5.5 M597.3,640.26 h-5.5" stroke="#000" stroke-width="1.1" fill="none"/>
<g style="font-family:'Liberation Serif',serif" font-size="13.6" fill="#000">
<text x="23.3" y="10.8" font-size="14.2" textLength="43.91" lengthAdjust="spacing">3.0e-11</text>
<text x="23.3" y="61.3" font-size="14.2" textLength="43.91" lengthAdjust="spacing">2.5e-11</text>
<text x="23.3" y="111.9" font-size="14.2" textLength="43.91" lengthAdjust="spacing">2.0e-11</text>
<text x="23.3" y="162.4" font-size="14.2" textLength="43.91" lengthAdjust="spacing">1.5e-11</text>
<text x="23.3" y="212.9" font-size="14.2" textLength="43.91" lengthAdjust="spacing">1.0e-11</text>
<text x="23.3" y="263.4" font-size="14.2" textLength="44.46" lengthAdjust="spacing">5.0e-12</text>
<text x="23.3" y="314.0" font-size="14.2" textLength="17.00" lengthAdjust="spacing">0.0</text>
<text x="19.6" y="364.5" font-size="14.2" textLength="48.66" lengthAdjust="spacing">-5.0e-12</text>
<text x="19.6" y="415.0" font-size="14.2" textLength="48.13" lengthAdjust="spacing">-1.0e-11</text>
<text x="19.6" y="465.5" font-size="14.2" textLength="48.13" lengthAdjust="spacing">-1.5e-11</text>
<text x="19.6" y="516.0" font-size="14.2" textLength="48.13" lengthAdjust="spacing">-2.0e-11</text>
<text x="19.6" y="566.6" font-size="14.2" textLength="48.13" lengthAdjust="spacing">-2.5e-11</text>
<text x="19.6" y="617.1" font-size="14.2" textLength="48.13" lengthAdjust="spacing">-3.0e-11</text>
<text x="24.1" y="645.4" font-size="14.2" textLength="44.46" lengthAdjust="spacing">8.0e-12</text>
<text x="24.1" y="677.1" font-size="14.2" textLength="44.46" lengthAdjust="spacing">4.0e-12</text>
<text x="24.1" y="708.8" font-size="14.2" textLength="17.00" lengthAdjust="spacing">0.0</text>
<text x="20.2" y="740.5" font-size="14.2" textLength="48.66" lengthAdjust="spacing">-4.0e-12</text>
<text x="20.2" y="772.2" font-size="14.2" textLength="48.66" lengthAdjust="spacing">-8.0e-12</text>
<text x="20.2" y="804.0" font-size="14.2" textLength="48.13" lengthAdjust="spacing">-1.2e-11</text>
<text x="79.9" y="820.1" text-anchor="middle" textLength="29.10" lengthAdjust="spacing">3000</text>
<text x="157.1" y="820.1" text-anchor="middle" textLength="29.10" lengthAdjust="spacing">4000</text>
<text x="234.3" y="820.1" text-anchor="middle" textLength="29.10" lengthAdjust="spacing">5000</text>
<text x="311.5" y="820.1" text-anchor="middle" textLength="29.10" lengthAdjust="spacing">6000</text>
<text x="388.7" y="820.1" text-anchor="middle" textLength="29.10" lengthAdjust="spacing">7000</text>
<text x="465.9" y="820.1" text-anchor="middle" textLength="29.10" lengthAdjust="spacing">8000</text>
<text x="543.1" y="820.1" text-anchor="middle" textLength="29.10" lengthAdjust="spacing">9000</text>
<text x="336.8" y="850.3" text-anchor="middle" textLength="140.68" lengthAdjust="spacing">Wavelength (Angstrom)</text>
<text transform="translate(12.0,319.2) rotate(-90)" text-anchor="middle" textLength="162.38" lengthAdjust="spacing">Flux (erg/cm2/s/Angstrom)</text>
<text transform="translate(12.0,716.5) rotate(-90)" text-anchor="middle" textLength="162.38" lengthAdjust="spacing">Flux (erg/cm2/s/Angstrom)</text>
</g>
<g style="font-family:'Liberation Serif',serif" fill="#000">
<text transform="translate(151.3,94.7) rotate(-90)" font-size="13" textLength="49.8" lengthAdjust="spacing">Hζ 3889</text>
<text transform="translate(166.3,94.4) rotate(-90)" font-size="13" textLength="48.8" lengthAdjust="spacing">Hε 3970</text>
<text transform="translate(181.4,94.4) rotate(-90)" font-size="13" textLength="49.2" lengthAdjust="spacing">Hδ 4142</text>
<text transform="translate(195.3,94.7) rotate(-90)" font-size="13" textLength="48.2" lengthAdjust="spacing">Hγ 4340</text>
<text transform="translate(370.1,113.7) rotate(-90)" font-size="13" textLength="51.7" lengthAdjust="spacing">Hα 6562</text>
<text transform="translate(199.2,191.0) rotate(-90)" font-size="15" textLength="71.7" lengthAdjust="spacing">O III 4435</text>
<text transform="translate(215.2,191.0) rotate(-90)" font-size="15" textLength="69.2" lengthAdjust="spacing">C III 4651</text>
<text transform="translate(222.6,113.4) rotate(-90)" font-size="15" textLength="59.0" lengthAdjust="spacing">Hβ 4861</text>
<text transform="translate(243.0,192.9) rotate(-90)" font-size="15" textLength="150.0" lengthAdjust="spacing">He I 5016, Fe II 5018</text>
<text transform="translate(292.5,197.1) rotate(-90)" font-size="15" textLength="66.8" lengthAdjust="spacing">N II 5676</text>
<text transform="translate(308.5,195.7) rotate(-90)" font-size="15" textLength="68.1" lengthAdjust="spacing">He I 5875</text>
<text transform="translate(327.0,215.1) rotate(-90)" font-size="15" textLength="70.2" lengthAdjust="spacing">C III 6167</text>
<text transform="translate(345.9,216.9) rotate(-90)" font-size="15" textLength="67.0" lengthAdjust="spacing">Ne I 6383</text>
<text transform="translate(370.9,218.1) rotate(-90)" font-size="15" textLength="68.2" lengthAdjust="spacing">He I 6678</text>
<text transform="translate(395.8,232.4) rotate(-90)" font-size="15" textLength="68.5" lengthAdjust="spacing">He I 7065</text>
<text transform="translate(452.0,226.6) rotate(-90)" font-size="15" textLength="60.7" lengthAdjust="spacing">O I 7775</text>
<text transform="translate(480.6,232.4) rotate(-90)" font-size="15" textLength="78.0" lengthAdjust="spacing">Mg II 8232</text>
<text transform="translate(497.3,152.1) rotate(-90)" font-size="15" textLength="60.7" lengthAdjust="spacing">O I 8447</text>
<text transform="translate(510.2,229.1) rotate(-90)" font-size="15" textLength="73.9" lengthAdjust="spacing">Ca II 8542</text>
<text transform="translate(523.8,228.4) rotate(-90)" font-size="15" textLength="61.8" lengthAdjust="spacing">N I 8692</text>
<text transform="translate(546.8,228.7) rotate(-90)" font-size="15" textLength="61.9" lengthAdjust="spacing">N I 9050</text>
<text transform="translate(562.3,228.7) rotate(-90)" font-size="15" textLength="77.1" lengthAdjust="spacing">Mg II 9244</text>
<text transform="translate(105.4,673.7) rotate(-90)" font-size="12.5" textLength="69.9" lengthAdjust="spacing">[Ne III] 3343</text>
<text transform="translate(123.0,669.6) rotate(-90)" font-size="12.5" textLength="66.7" lengthAdjust="spacing">[Ne V] 3425</text>
<text transform="translate(146.8,673.7) rotate(-90)" font-size="12.5" textLength="69.1" lengthAdjust="spacing">[Ne III] 3869</text>
<text transform="translate(160.5,673.7) rotate(-90)" font-size="12.5" textLength="69.9" lengthAdjust="spacing">[Ne III] 3968</text>
<text transform="translate(188.8,676.6) rotate(-90)" font-size="13" textLength="127.3" lengthAdjust="spacing">[C III], [O III] 4364</text>
<text transform="translate(209.5,661.4) rotate(-90)" font-size="12.5" textLength="56.3" lengthAdjust="spacing">N III 4640</text>
<text transform="translate(220.5,661.4) rotate(-90)" font-size="12.5" textLength="57.1" lengthAdjust="spacing">He II 4686</text>
<text transform="translate(231.3,668.1) rotate(-90)" font-size="12.5" textLength="65.3" lengthAdjust="spacing">[O III] 4959</text>
<text transform="translate(247.7,668.9) rotate(-90)" font-size="12.5" textLength="63.8" lengthAdjust="spacing">[O III] 5007</text>
<text transform="translate(307.0,694.6) rotate(-90)" font-size="12.5" textLength="60.8" lengthAdjust="spacing">[N II] 5755</text>
<text transform="translate(332.8,691.2) rotate(-90)" font-size="12.5" textLength="73.3" lengthAdjust="spacing">[Fe VII] 6087</text>
<text transform="translate(360.6,666.2) rotate(-90)" font-size="12.5" textLength="16.6" lengthAdjust="spacing">Hα</text>
<text transform="translate(433.8,695.4) rotate(-90)" font-size="12.5" textLength="59.3" lengthAdjust="spacing">[O II] 7330</text>
<text x="553.5" y="309.9" font-size="13" textLength="17.71" lengthAdjust="spacing">1.7</text>
<text x="553.5" y="363.3" font-size="13" textLength="24.80" lengthAdjust="spacing">17.7</text>
<text x="553.5" y="415.1" font-size="13" textLength="24.80" lengthAdjust="spacing">31.7</text>
<text x="552.8" y="469.6" font-size="13" textLength="24.80" lengthAdjust="spacing">48.6</text>
<text x="552.8" y="522.5" font-size="13" textLength="24.80" lengthAdjust="spacing">57.7</text>
<text x="552.8" y="575.5" font-size="13" textLength="24.80" lengthAdjust="spacing">72.6</text>
<text x="552.8" y="628.3" font-size="13" textLength="24.80" lengthAdjust="spacing">78.7</text>
<text x="588.0" y="714.4" font-size="12.4" text-anchor="end" textLength="30.13" lengthAdjust="spacing">177.1</text>
<text x="588.0" y="729.7" font-size="12.4" text-anchor="end" textLength="30.13" lengthAdjust="spacing">186.1</text>
<text x="588.0" y="744.7" font-size="12.4" text-anchor="end" textLength="30.13" lengthAdjust="spacing">202.0</text>
<text x="588.0" y="759.9" font-size="12.4" text-anchor="end" textLength="30.13" lengthAdjust="spacing">217.0</text>
<text x="588.0" y="774.4" font-size="12.4" text-anchor="end" textLength="30.13" lengthAdjust="spacing">223.9</text>
<text x="588.0" y="788.9" font-size="12.4" text-anchor="end" textLength="30.13" lengthAdjust="spacing">247.0</text>
</g>
<path d="M148.0,127.0V136.8 M154.2,127.0V136.8 M164.3,127.0V136.8 M183,126.5V136.8 M223.2,126.8V136.4 M355.1,126.4V136 M190.1,197.7V207.3 M206.4,197.7V207.3 M235.4,207.3V217 M286.3,227.7V237.7 M324,248V258.4 M340.7,248V258.4 M363.7,247.7V257.4 M394,258V268 M448.9,258.2V268 M483.9,258.2V268 M500.4,258.2V268 M507.5,258.2V268 M519.3,257.5V267.5 M547.3,257.2V267.5 M562,257.2V267.5 M574.8,257.2V267.5 M106.3,677.5V687.7 M112.5,677.5V687.7 M147,677.5V687.5 M154.7,677.5V687.5 M185.3,678V687.6 M206.7,678.5V687.5 M210.2,678.5V687.5 M231.8,678.5V687.5 M235.2,678.5V687.5 M293,676.7V687.5 M318.7,677.5V687.5 M355.5,678.3V687.5 M414.5,677.5V688" stroke="#1a1a1a" stroke-width="1.6" fill="none"/>
</svg></body></html>
